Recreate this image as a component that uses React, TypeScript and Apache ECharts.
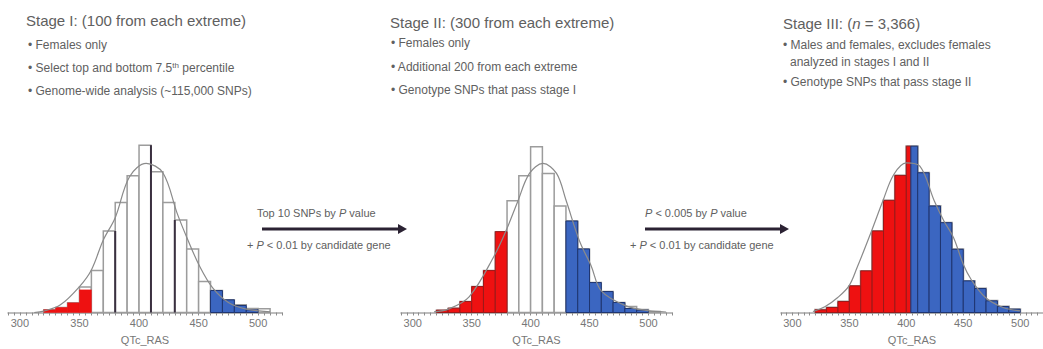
import React, { useEffect, useRef } from "react";
import * as echarts from "echarts";

// ---------- data ----------
const BIN_WIDTH = 10;
const bins = [320, 330, 340, 350, 360, 370, 380, 390, 400, 410, 420, 430, 440, 450, 460, 470, 480, 490, 500];
const xTickLabels = [300, 350, 400, 450, 500];
const xMin = 290;
const xMax = 520;

// Stage I
const stage1All = [1.6, 3.0, 5.8, 15.4, 25.2, 49.0, 66.2, 82.2, 100.6, 84.6, 66.2, 55.6, 38.2, 18.6, 13.2, 7.6, 4.6, 2.4, 2.2];
const stage1Low = [1.6, 3.0, 5.8, 13.6, null, null, null, null, null, null, null, null, null, null, null, null, null, null, null];
const stage1High = [null, null, null, null, null, null, null, null, null, null, null, null, null, null, 13.2, 7.6, 4.2, 1.6, null];
const stage1DarkEdges = [[380, 49.0], [410, 100.6], [430, 55.6]];
const stage1Curve = [[312, 0], [320, 0.8], [334, 4.6], [350, 15.6], [360, 25.6], [370, 43.6], [380, 57], [392, 81.6], [406, 89.6], [420, 84], [432, 59.6], [441, 43.6], [451, 27.6], [462, 14.6], [475, 6], [490, 2], [510, 0.4]];

// Stage II
const stage2All = [1.4, 2.6, 6.6, 15.6, 25.2, 48.6, 67.2, 82.2, 99.6, 83.6, 64.0, 55.0, 38.2, 18.0, 12.6, 6.0, 3.6, 1.8, 0.6];
const stage2Low = [1.4, 2.6, 6.6, 15.6, 25.2, 48.6, null, null, null, null, null, null, null, null, null, null, null, null, null];
const stage2High = [null, null, null, null, null, null, null, null, null, null, null, 55.0, 38.2, 18.0, 12.6, 6.0, 2.4, 1.4, null];
const stage2Curve = [[318, 0.4], [330, 2], [348, 9.6], [369.5, 34.6], [379.4, 49.6], [389, 66.6], [399, 83.6], [410.5, 89.6], [422, 83.6], [430, 67.6], [441.5, 43], [451.4, 28], [460, 13], [481, 4], [501, 1], [515, 0.3]];

// Stage III
const stage3All = [1.6, 3.0, 6.6, 16.0, 25.0, 49.0, 67.4, 82.4, 100.0, 84.0, 64.0, 54.0, 38.0, 19.0, 14.4, 7.0, 3.6, 2.0, null];
const stage3Low = [1.6, 3.0, 6.6, 16.0, 25.0, 49.0, 67.4, 82.4, 100.0, null, null, null, null, null, null, null, null, null, null];
const stage3High = [null, null, null, null, null, null, null, null, 100.0, 84.0, 64.0, 54.0, 38.0, 19.0, 14.4, 7.0, 3.6, 2.0, null];
const stage3Split = 404;
const stage3Curve = [[318, 0.6], [328.5, 3.4], [339.8, 9], [349.7, 16], [356.8, 27], [369.5, 49], [379.4, 67], [389, 83], [400, 90], [411.9, 88], [424.6, 67], [433, 55], [441.5, 45], [450, 29], [456.8, 20], [469.5, 9], [485, 3], [500, 1]];

// ---------- styles ----------
const FONT = "'Liberation Sans', Arial, Helvetica, sans-serif";
const RED = "#ee1111";
const RED_EDGE = "#9a1a1a";
const BLUE = "#3b66c1";
const BLUE_EDGE = "#1f3570";
const GRAY = "#9c9c9c";
const TEXT = "#606060";

function toRects(counts: (number | null)[], clipMin = -Infinity, clipMax = Infinity) {
  const out: number[][] = [];
  bins.forEach((b, i) => {
    const v = counts[i];
    if (v == null) return;
    const x0 = Math.max(b, clipMin);
    const x1 = Math.min(b + BIN_WIDTH, clipMax);
    if (x1 > x0) out.push([x0, x1, v]);
  });
  return out;
}

function rectSeries(data: number[][], gi: number, fill: string, stroke: string, lw: number, z: number) {
  return {
    type: "custom",
    xAxisIndex: gi,
    yAxisIndex: gi,
    z,
    silent: true,
    encode: { x: [0, 1], y: 2 },
    data,
    renderItem: (params: any, api: any) => {
      const p0 = api.coord([api.value(0), api.value(2)]);
      const p1 = api.coord([api.value(1), 0]);
      return {
        type: "rect",
        shape: { x: p0[0], y: p0[1], width: p1[0] - p0[0], height: p1[1] - p0[1] },
        style: { fill, stroke, lineWidth: lw },
      };
    },
  };
}

function edgeSeries(data: number[][], gi: number) {
  return {
    type: "custom",
    xAxisIndex: gi,
    yAxisIndex: gi,
    z: 3,
    silent: true,
    encode: { x: 0, y: 1 },
    data,
    renderItem: (params: any, api: any) => {
      const p0 = api.coord([api.value(0), api.value(1)]);
      const p1 = api.coord([api.value(0), 0]);
      return {
        type: "line",
        shape: { x1: p0[0], y1: p0[1], x2: p1[0], y2: p1[1] },
        style: { stroke: "#3a3040", lineWidth: 2 },
      };
    },
  };
}

function curveSeries(data: number[][], gi: number) {
  return {
    type: "line",
    xAxisIndex: gi,
    yAxisIndex: gi,
    z: 5,
    silent: true,
    data,
    smooth: 0.35,
    symbol: "none",
    lineStyle: { color: "#8a8a8a", width: 1.2 },
  };
}

const minorTicks: number[] = [];
for (let t = xMin; t <= xMax; t += 5) minorTicks.push(t);

function xAxisCfg(gi: number) {
  return {
    gridIndex: gi,
    type: "value",
    min: xMin,
    max: xMax,
    axisLine: { show: true, lineStyle: { color: "#a8a8a8", width: 1.5 } },
    axisTick: { show: true, customValues: minorTicks, length: 3, lineStyle: { color: "#8c8c8c", width: 1 } },
    axisLabel: { show: true, customValues: xTickLabels, color: "#777", fontSize: 11, margin: 5, fontFamily: FONT },
    splitLine: { show: false },
    name: "QTc_RAS",
    nameLocation: "middle",
    nameGap: 22,
    nameTextStyle: { color: "#777", fontSize: 11, fontFamily: FONT },
  };
}

function yAxisCfg(gi: number) {
  return { gridIndex: gi, type: "value", min: 0, max: 101, show: false };
}

const rich = {
  a: { fontSize: 12, fontFamily: FONT, fill: TEXT, color: TEXT },
  i: { fontSize: 12, fontFamily: FONT, fontStyle: "italic", color: TEXT },
  sup: { fontSize: 8, fontFamily: FONT, color: TEXT, verticalAlign: "top", padding: [0, 0, 6, 0] },
  h: { fontSize: 15, fontFamily: FONT, color: "#555" },
  hi: { fontSize: 15, fontFamily: FONT, fontStyle: "italic", color: "#555" },
  s: { fontSize: 11, fontFamily: FONT, color: TEXT },
  si: { fontSize: 11, fontFamily: FONT, fontStyle: "italic", color: TEXT },
};

function txt(x: number, y: number, text: string) {
  return {
    type: "text",
    x,
    y,
    silent: true,
    style: { text, rich, verticalAlign: "middle", align: "left", fill: TEXT, fontFamily: FONT, fontSize: 12 },
  };
}

function arrow(x1: number, x2: number, y: number) {
  return [
    { type: "line", shape: { x1, y1: y, x2: x2 - 6, y2: y }, style: { stroke: "#2b2233", lineWidth: 3 } },
    { type: "polygon", shape: { points: [[x2 - 9, y - 5], [x2, y], [x2 - 9, y + 5]] }, style: { fill: "#2b2233" } },
  ];
}

export default function App() {
  const ref = useRef<HTMLDivElement>(null);
  useEffect(() => {
    document.body.style.margin = "0";
    if (!ref.current) return;
    const chart = echarts.init(ref.current, undefined, { renderer: "svg" });
    const gridBase = { top: 144.5, height: 168, containLabel: false };
    const option: any = {
      animation: false,
      backgroundColor: "#ffffff",
      grid: [
        { ...gridBase, left: 8, width: 274 },
        { ...gridBase, left: 401, width: 271 },
        { ...gridBase, left: 781, width: 271 },
      ],
      xAxis: [xAxisCfg(0), xAxisCfg(1), xAxisCfg(2)],
      yAxis: [yAxisCfg(0), yAxisCfg(1), yAxisCfg(2)],
      series: [
        rectSeries(toRects(stage1All), 0, "#ffffff", GRAY, 1.5, 1),
        rectSeries(toRects(stage1Low), 0, RED, RED, 0.5, 2),
        rectSeries(toRects(stage1High), 0, BLUE, BLUE_EDGE, 1, 2),
        edgeSeries(stage1DarkEdges, 0),
        curveSeries(stage1Curve, 0),

        rectSeries(toRects(stage2All), 1, "#ffffff", GRAY, 1.5, 1),
        rectSeries(toRects(stage2Low), 1, RED, RED_EDGE, 1, 2),
        rectSeries(toRects(stage2High), 1, BLUE, BLUE_EDGE, 1, 2),
        curveSeries(stage2Curve, 1),

        rectSeries(toRects(stage3All), 2, "#ffffff", GRAY, 2, 1),
        rectSeries(toRects(stage3Low, -Infinity, stage3Split), 2, RED, RED_EDGE, 1, 2),
        rectSeries(toRects(stage3High, stage3Split, Infinity), 2, BLUE, BLUE_EDGE, 1, 2),
        curveSeries(stage3Curve, 2),
      ],
      graphic: [
        txt(26, 20, "{h|Stage I: (100 from each extreme)}"),
        txt(28, 45, "{a|• Females only}"),
        txt(28, 68, "{a|• Select top and bottom 7.5}{sup|th}{a| percentile}"),
        txt(28, 91, "{a|• Genome-wide analysis (~115,000 SNPs)}"),

        txt(390, 22, "{h|Stage II: (300 from each extreme)}"),
        txt(391, 43, "{a|• Females only}"),
        txt(391, 67, "{a|• Additional 200 from each extreme}"),
        txt(391, 90, "{a|• Genotype SNPs that pass stage I}"),

        txt(783, 23, "{h|Stage III: (}{hi|n}{h| = 3,366)}"),
        txt(783, 45, "{a|• Males and females, excludes females}"),
        txt(790, 62, "{a|analyzed in stages I and II}"),
        txt(783, 82, "{a|• Genotype SNPs that pass stage II}"),

        txt(257, 213, "{s|Top 10 SNPs by }{si|P}{s| value}"),
        ...arrow(262, 407, 229),
        txt(247, 245, "{s|+ }{si|P}{s| < 0.01 by candidate gene}"),

        txt(645, 213, "{si|P}{s| < 0.005 by }{si|P}{s| value}"),
        ...arrow(645, 789, 229),
        txt(630, 245, "{s|+ }{si|P}{s| < 0.01 by candidate gene}"),
      ],
    };
    chart.setOption(option);
    return () => chart.dispose();
  }, []);
  return <div ref={ref} style={{ width: 1043, height: 349 }} />;
}
